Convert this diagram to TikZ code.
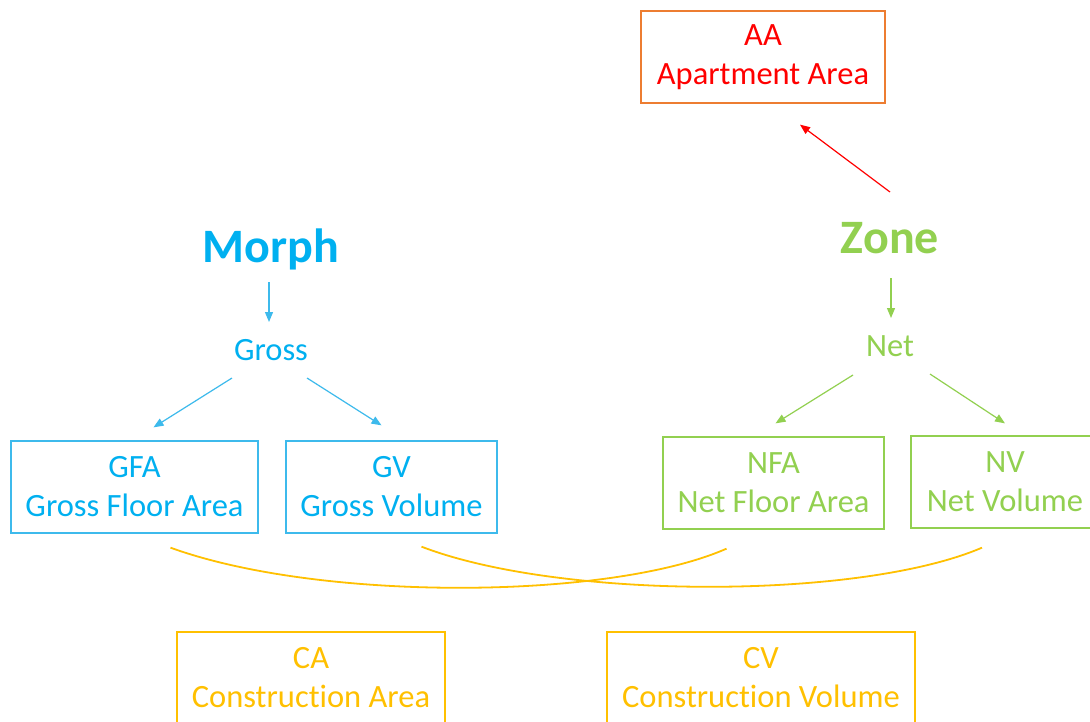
\documentclass[tikz,border=0pt]{standalone}
\usepackage{fontspec}
\setmainfont{Carlito}[RawFeature={-liga}]
\usetikzlibrary{arrows.meta}

\definecolor{grossblue}{HTML}{00B0F0}
\definecolor{grossline}{HTML}{3DBAEC}
\definecolor{netgreen}{HTML}{92D050}
\definecolor{constyellow}{HTML}{FFC000}
\definecolor{aared}{HTML}{FF0000}
\definecolor{aaorange}{HTML}{ED7D31}

\begin{document}
\begin{tikzpicture}[
    x=1pt, y=-1pt,
    measure/.style={rectangle, draw, line width=1.3pt, minimum height=92pt, align=center, inner sep=0pt, font=\fontsize{32.5}{39}\selectfont},
    title/.style={inner sep=0pt, anchor=base, font=\fontsize{48}{58}\selectfont\bfseries},
    kind/.style={inner sep=0pt, anchor=base, font=\fontsize{32.5}{39}\selectfont},
    arrow/.style={-{Triangle[length=10pt, width=8pt]}, line width=1.2pt},
    link/.style={draw=constyellow, line width=1.8pt}
]
\useasboundingbox[fill=white] (0,0) rectangle (1090,721);

% Top (Apartment Area)
\node[measure, draw=aaorange, text=aared, minimum width=244pt] (AA) at (763,57) {AA\\Apartment Area};

% Left Column (Morph)
\node[title, text=grossblue] (Morph) at (271,262) {Morph};
\node[kind, text=grossblue] (Gross) at (271,360) {Gross};
\node[measure, draw=grossline, text=grossblue, minimum width=247pt] (GFA) at (134.5,487) {GFA\\Gross Floor Area};
\node[measure, draw=grossline, text=grossblue, minimum width=211pt] (GV) at (391.5,487) {GV\\Gross Volume};

% Right Column (Zone)
\node[title, text=netgreen] (Zone) at (890,253) {Zone};
\node[kind, text=netgreen] (Net) at (890,356) {Net};
\node[measure, draw=netgreen, text=netgreen, minimum width=221pt] (NFA) at (773.5,483) {NFA\\Net Floor Area};
\node[measure, draw=netgreen, text=netgreen, minimum width=188pt] (NV) at (1005,482) {NV\\Net Volume};

% Bottom (Construction)
\node[measure, draw=constyellow, text=constyellow, minimum width=268pt] (CA) at (311,678) {CA\\Construction Area};
\node[measure, draw=constyellow, text=constyellow, minimum width=308pt] (CV) at (761,678) {CV\\Construction Volume};

% Edges
\draw[arrow, aared] ([shift={(0,-61)}]Zone.base) -- ([shift={(37,21)}]AA.south);
\draw[arrow, grossline] ([shift={(-2,20)}]Morph.base) -- ([shift={(-2,-38)}]Gross.base);
\draw[arrow, grossline] ([shift={(-39,18)}]Gross.base) -- ([shift={(19,-13)}]GFA.north);
\draw[arrow, grossline] ([shift={(36,18)}]Gross.base) -- ([shift={(-10,-15)}]GV.north);
\draw[arrow, netgreen] ([shift={(1,25)}]Zone.base) -- ([shift={(1,-38)}]Net.base);
\draw[arrow, netgreen] ([shift={(-37,19)}]Net.base) -- ([shift={(2,-13)}]NFA.north);
\draw[arrow, netgreen] ([shift={(40,18)}]Net.base) -- ([shift={(0,-12)}]NV.north);

% Crossing links
\draw[link] ([shift={(36,14)}]GFA.south) .. controls (320,602) and (610,600) .. ([shift={(-47,19)}]NFA.south);
\draw[link] ([shift={(30,13)}]GV.south) .. controls (560,600) and (860,600) .. ([shift={(-23,19)}]NV.south);

\end{tikzpicture}
\end{document}
